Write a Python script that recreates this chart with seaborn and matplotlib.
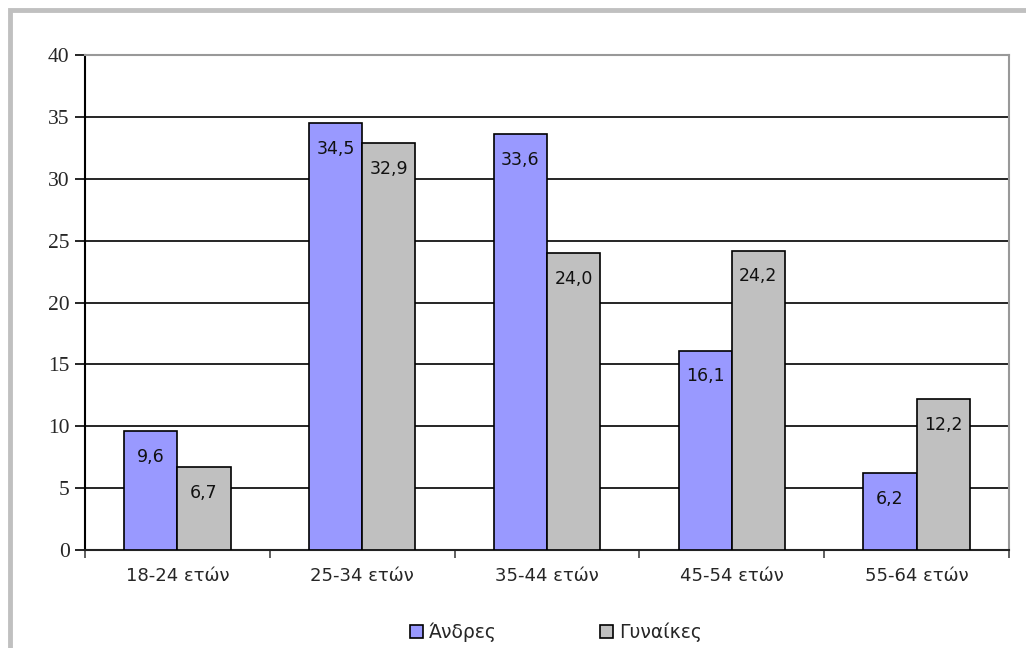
import matplotlib
matplotlib.use("Agg")
from matplotlib import pyplot as plt
from matplotlib.patches import Rectangle, Patch
from matplotlib.ticker import FixedLocator
import seaborn as sns
import pandas as pd

AGE_GROUPS = ["18-24 ετών", "25-34 ετών", "35-44 ετών", "45-54 ετών", "55-64 ετών"]
MEN = [9.6, 34.5, 33.6, 16.1, 6.2]
WOMEN = [6.7, 32.9, 24.0, 24.2, 12.2]
SERIES = ["Άνδρες", "Γυναίκες"]
COLORS = {"Άνδρες": "#9999ff", "Γυναίκες": "#c0c0c0"}

df = pd.DataFrame({
    "group": AGE_GROUPS * 2,
    "value": MEN + WOMEN,
    "series": [SERIES[0]] * len(MEN) + [SERIES[1]] * len(WOMEN),
})

sns.set_style("white")
plt.rcParams["font.family"] = ["DejaVu Sans"]

fig = plt.figure(figsize=(10.26, 6.48), dpi=100)
ax = fig.add_axes([85 / 1026, 1 - 550 / 648, (1009 - 85) / 1026, (550 - 55) / 648])

sns.barplot(
    data=df, x="group", y="value", hue="series", palette=COLORS,
    width=0.575, edgecolor="black", linewidth=1.2, saturation=1,
    legend=False, ax=ax, zorder=3,
)

for cont in ax.containers:
    ax.bar_label(
        cont, labels=[f"{b.get_height():.1f}".replace(".", ",") for b in cont],
        padding=-25, fontsize=12.5, color="#111111",
    )

ax.set_ylim(0, 40)
ax.set_xlim(-0.5, len(AGE_GROUPS) - 0.5)
ax.set_yticks(range(0, 41, 5))
ax.yaxis.grid(True, color="black", linewidth=1.2, zorder=0)
ax.set_axisbelow(True)
ax.set_xlabel("")
ax.set_ylabel("")

for lbl in ax.get_yticklabels():
    lbl.set_fontfamily("Liberation Serif")
    lbl.set_fontsize(15.5)
ax.tick_params(axis="y", length=7, width=1.2, color="black", direction="out", pad=4, left=True)
ax.tick_params(axis="x", length=0, pad=12, labelsize=13)
ax.xaxis.set_minor_locator(FixedLocator([i + 0.5 for i in range(-1, len(AGE_GROUPS))]))
ax.tick_params(axis="x", which="minor", length=6, width=1.2, color="#444444", bottom=True)

ax.spines["left"].set_color("black")
ax.spines["left"].set_linewidth(1.5)
for side in ["top", "right", "bottom"]:
    ax.spines[side].set_color("#999999")
    ax.spines[side].set_linewidth(1.5)
ax.spines["bottom"].set_color("#222222")

handles = [Patch(facecolor=COLORS[s], edgecolor="black", linewidth=1.2) for s in SERIES]
fig.legend(
    handles, SERIES, loc="center", bbox_to_anchor=(556 / 1026, 1 - 632 / 648),
    ncol=2, frameon=False, fontsize=13.5, handlelength=0.7, handleheight=0.7,
    handletextpad=0.3, columnspacing=5.5,
)

fig.patches.append(Rectangle(
    (10 / 1026, -0.05), 1.1, 1 - 10 / 648 + 0.05, transform=fig.transFigure,
    fill=False, edgecolor="#c0c0c0", linewidth=3.5,
))

fig.savefig("out.png", dpi=100)
